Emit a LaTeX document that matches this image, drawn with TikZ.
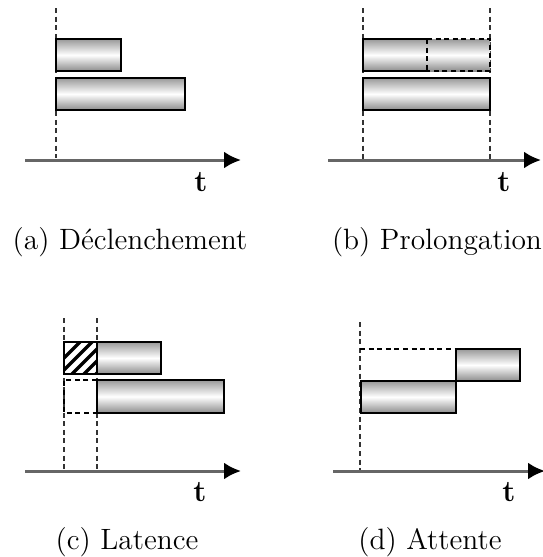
\documentclass[tikz,border=0pt]{standalone}
\usetikzlibrary{arrows.meta}
\begin{document}
\begin{tikzpicture}[x=0.5pt,y=-0.5pt,
  bar/.style={draw=black, line width=1pt, top color=gray!80, bottom color=gray!90, middle color=white},
  ghost/.style={draw=black, line width=0.9pt, dash pattern=on 2.5pt off 1.8pt},
  guide/.style={draw=black!80, line width=0.8pt, dash pattern=on 2.5pt off 1.8pt},
  axis/.style={draw=black!60, line width=1.5pt, -{Latex[color=black,length=8.5pt,width=8.5pt]}},
  tlab/.style={font=\fontsize{15}{17}\selectfont\bfseries},
  captxt/.style={font=\fontsize{14.7}{17}\selectfont}]
\useasboundingbox (0,0) rectangle (542,557);
% ---------- (a) ----------
\coordinate (a0) at (25,160); \coordinate (a1) at (241,160);
\draw[guide] (56,8) -- (56,158);
\draw[bar] (56,39) rectangle (121,71);
\draw[bar] (56,78) rectangle (185,110);
\draw[axis] (a0) -- (a1);
\node[tlab] (at) at (201,182) {t};
\node[captxt] (acap) at (130,242) {(a) Déclenchement};
% ---------- (b) ----------
\coordinate (b0) at (328,160); \coordinate (b1) at (541,160);
\draw[guide] (363,8) -- (363,160);
\draw[guide] (490,8) -- (490,160);
\shade[top color=gray!80, bottom color=gray!90, middle color=white] (363,39) rectangle (490,71);
\draw[line width=1pt] (427,39) -- (363,39) -- (363,71) -- (427,71);
\draw[ghost] (427,39) -- (490,39) -- (490,71) -- (427,71);
\draw[ghost] (427,39) -- (427,71);
\draw[bar] (363,78) rectangle (490,110);
\draw[axis] (b0) -- (b1);
\node[tlab] (bt) at (504,182) {t};
\node[captxt] (bcap) at (437,242) {(b) Prolongation};
% ---------- (c) ----------
\coordinate (c0) at (25,471); \coordinate (c1) at (241,471);
\draw[guide] (64,318) -- (64,470);
\draw[guide] (97,318) -- (97,470);
\begin{scope}
  \clip (64,342) rectangle (97,374);
  \foreach \k in {-20,-8,4,16,28,40}
    \draw[line width=1.6pt] (64+\k,378) -- (64+\k+40,338);
\end{scope}
\draw[line width=1pt] (64,342) rectangle (97,374);
\draw[bar] (97,342) rectangle (161,374);
\draw[ghost] (97,380) -- (64,380) -- (64,413) -- (97,413);
\draw[bar] (97,380) rectangle (224,413);
\draw[axis] (c0) -- (c1);
\node[tlab] (ct) at (200,492) {t};
\node[captxt] (ccap) at (127,542) {(c) Latence};
% ---------- (d) ----------
\coordinate (d0) at (333,471); \coordinate (d1) at (545,471);
\draw[guide] (360,322) -- (360,470);
\draw[ghost] (360,349) -- (456,349);
\draw[bar] (456,349) rectangle (520,381);
\draw[bar] (361,381) rectangle (456,413);
\draw[axis] (d0) -- (d1);
\node[tlab] (dt) at (509,492) {t};
\node[captxt] (dcap) at (430,542) {(d) Attente};
\end{tikzpicture}
\end{document}
